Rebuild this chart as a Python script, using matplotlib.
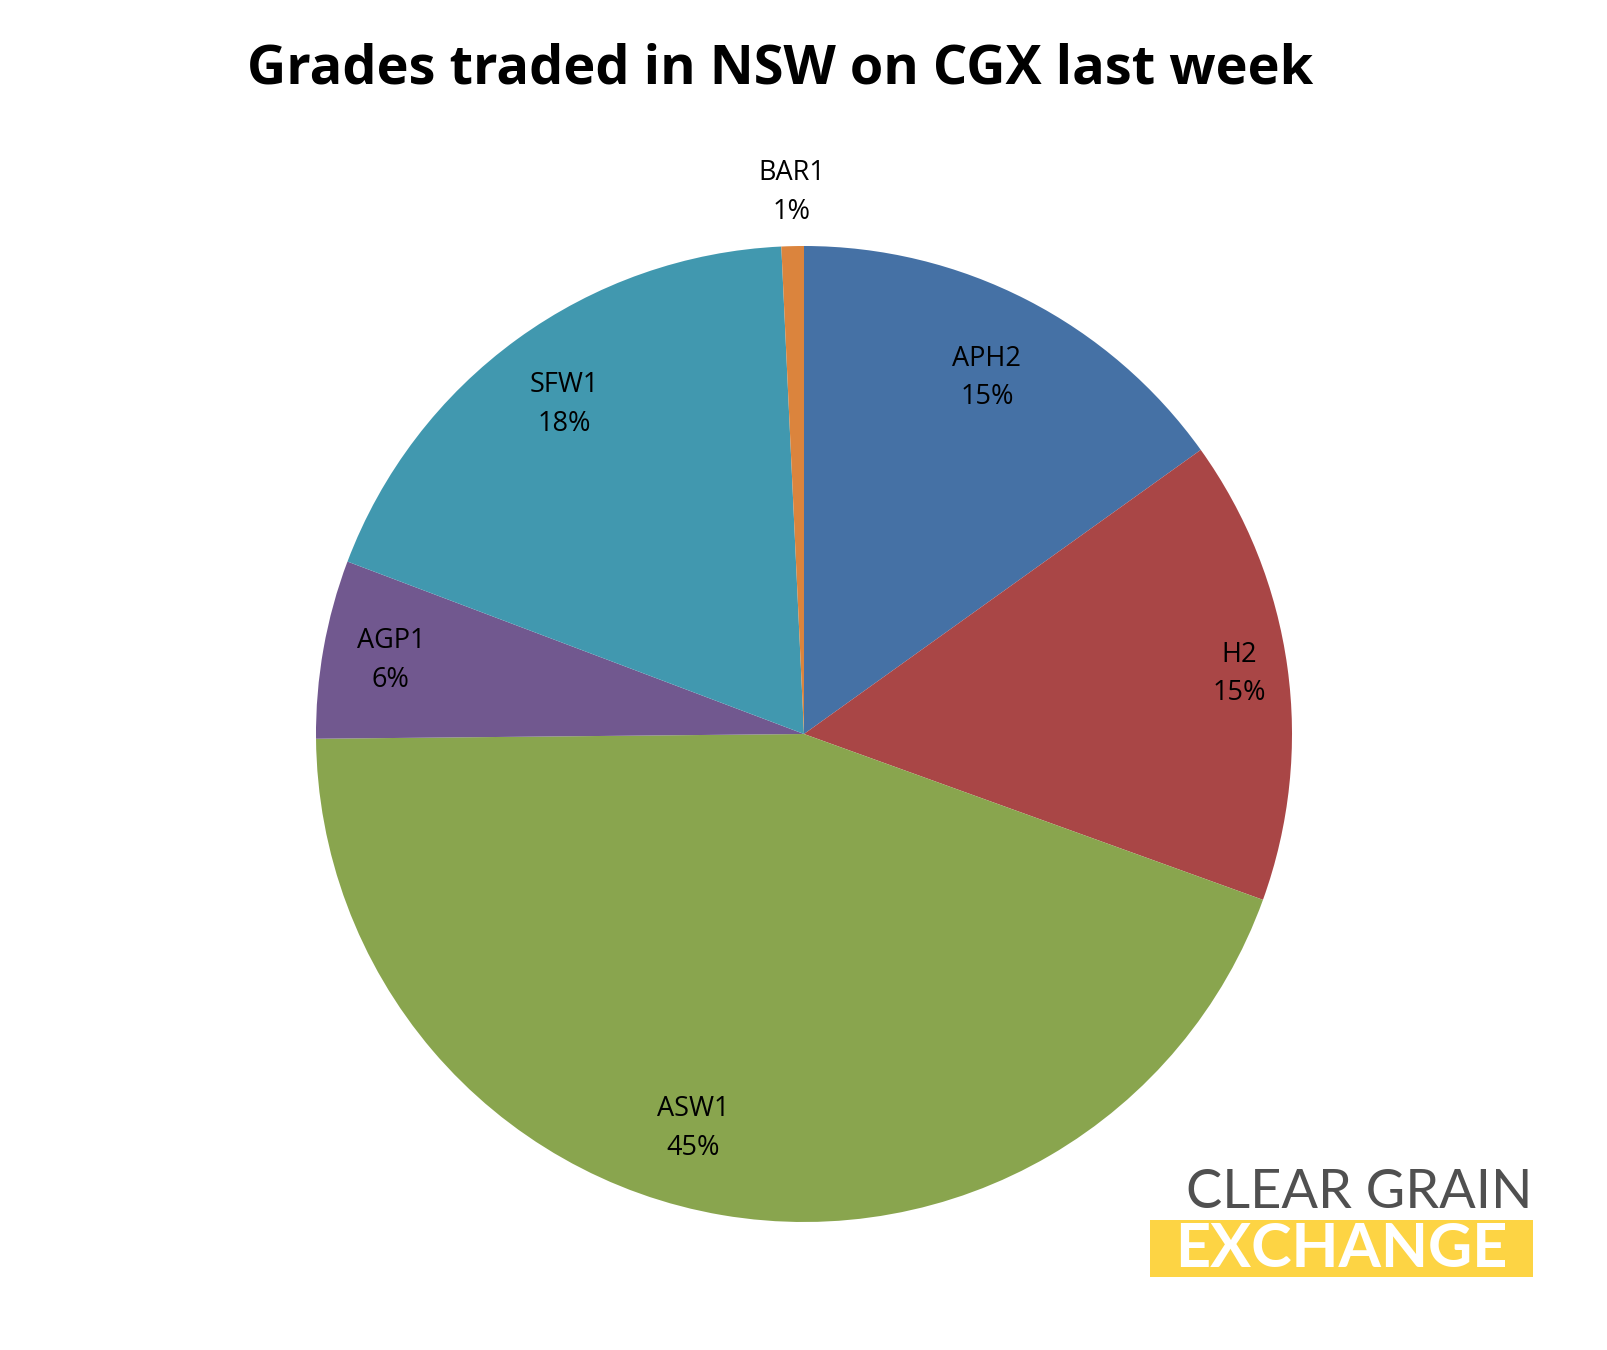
import matplotlib
matplotlib.use("Agg")
import matplotlib.pyplot as plt
from matplotlib.patches import Rectangle
import numpy as np

labels = ["APH2", "H2", "ASW1", "AGP1", "SFW1", "BAR1"]
values = [15.1, 15.4, 44.3, 5.9, 18.5, 0.74]
pct_text = ["15%", "15%", "45%", "6%", "18%", "1%"]
colors = ["#4571A5", "#A94646", "#89A54E", "#71588F", "#4198AF", "#DB843D"]
label_dist = [0.82, 0.9, 0.84, 0.86, 0.835, 1.11]
label_angle_shift = [0, 0, -6, 0, 0, 0]

plt.rcParams['font.family'] = ['Open Sans', 'DejaVu Sans']
W, H = 1608, 1350
fig = plt.figure(figsize=(16.08, 13.5), dpi=100)
cx, cy, r = 804, 734, 488
ax = fig.add_axes([(cx - r) / W, (H - cy - r) / H, 2 * r / W, 2 * r / H])
wedges, _ = ax.pie(values, colors=colors, startangle=90, counterclock=False,
                   wedgeprops=dict(linewidth=0))
ax.set_xlim(-1, 1)
ax.set_ylim(-1, 1)
ax.set_aspect('equal')
for w, lab, p, d, s in zip(wedges, labels, pct_text, label_dist, label_angle_shift):
    ang = np.deg2rad((w.theta1 + w.theta2) / 2 + s)
    ax.text(d * np.cos(ang), d * np.sin(ang), f"{lab}\n{p}", ha='center', va='center',
            fontsize=19.5, linespacing=1.5, color='black', clip_on=False)

fig.text(0.485, 1 - 69 / H, "Grades traded in NSW on CGX last week", ha='center', va='center',
         fontsize=39, fontweight='bold')
# logo
fig.text(1533 / W, 1 - 1193 / H, "CLEAR GRAIN", ha='right', va='center', fontsize=39,
         color='#505050', family=['Lato', 'DejaVu Sans'])
fig.patches.append(Rectangle((1150 / W, 1 - 1277 / H), 383 / W, 57 / H,
                             transform=fig.transFigure, fc='#FDD444', ec='none'))
fig.text(1341 / W, 1 - 1249 / H, "EXCHANGE", ha='center', va='center', fontsize=44,
         color='white', fontweight='bold', family=['Lato', 'DejaVu Sans'])
fig.savefig("out.png", dpi=100, facecolor='white')
